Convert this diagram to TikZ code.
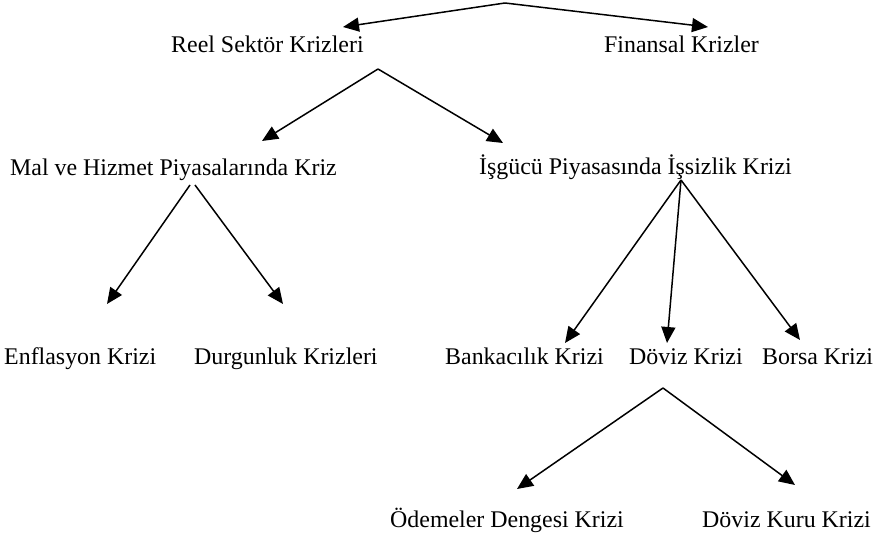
\documentclass[tikz,border=0pt]{standalone}
\usepackage{fontspec}
\setmainfont{Liberation Serif}
\usetikzlibrary{arrows.meta}
\begin{document}
\begin{tikzpicture}[x=1pt,y=-1pt,
  lbl/.style={inner sep=0pt,anchor=base west,font=\fontsize{23.9}{28}\selectfont},
  arr/.style={line width=1.5pt,-{Triangle[length=16pt,width=14pt]}}]
\useasboundingbox[fill=white] (0,0) rectangle (876,534);
% labels
\node[lbl] (reel)  at (171,53)  {Reel Sektör Krizleri};
\node[lbl] (fin)   at (604,53)  {Finansal Krizler};
\node[lbl] (mal)   at (10,176)  {Mal ve Hizmet Piyasalarında Kriz};
\node[lbl] (isg)   at (479,175) {İşgücü Piyasasında İşsizlik Krizi};
\node[lbl] (enf)   at (4,365)   {Enflasyon Krizi};
\node[lbl] (durg)  at (194,365) {Durgunluk Krizleri};
\node[lbl] (bank)  at (445,365) {Bankacılık Krizi};
\node[lbl] (doviz) at (629,365) {Döviz Krizi};
\node[lbl] (borsa) at (762,365) {Borsa Krizi};
\node[lbl] (odeme) at (390,528) {Ödemeler Dengesi Krizi};
\node[lbl] (kur)   at (702,528) {Döviz Kuru Krizi};
% apexes and tips
\coordinate (a0) at (505,3);
\coordinate (t0l) at (343,27);
\coordinate (t0r) at (708,27);
\coordinate (a1) at (378,69);
\coordinate (t1l) at (262,141);
\coordinate (t1r) at (503,143);
\coordinate (a2l) at (190,185);
\coordinate (a2r) at (195,185);
\coordinate (t2l) at (107,304);
\coordinate (t2r) at (283,304);
\coordinate (a3) at (681,180);
\coordinate (t3a) at (565,343);
\coordinate (t3b) at (667,343);
\coordinate (t3c) at (800,340);
\coordinate (a4) at (663,388);
\coordinate (t4l) at (517,489);
\coordinate (t4r) at (795,485);
% connectors
\draw[arr] (a0) -- (t0l);
\draw[arr] (a0) -- (t0r);
\draw[arr] (a1) -- (t1l);
\draw[arr] (a1) -- (t1r);
\draw[arr] (a2l) -- (t2l);
\draw[arr] (a2r) -- (t2r);
\draw[arr] (a3) -- (t3a);
\draw[arr] (a3) -- (t3b);
\draw[arr] (a3) -- (t3c);
\draw[arr] (a4) -- (t4l);
\draw[arr] (a4) -- (t4r);
\end{tikzpicture}
\end{document}
